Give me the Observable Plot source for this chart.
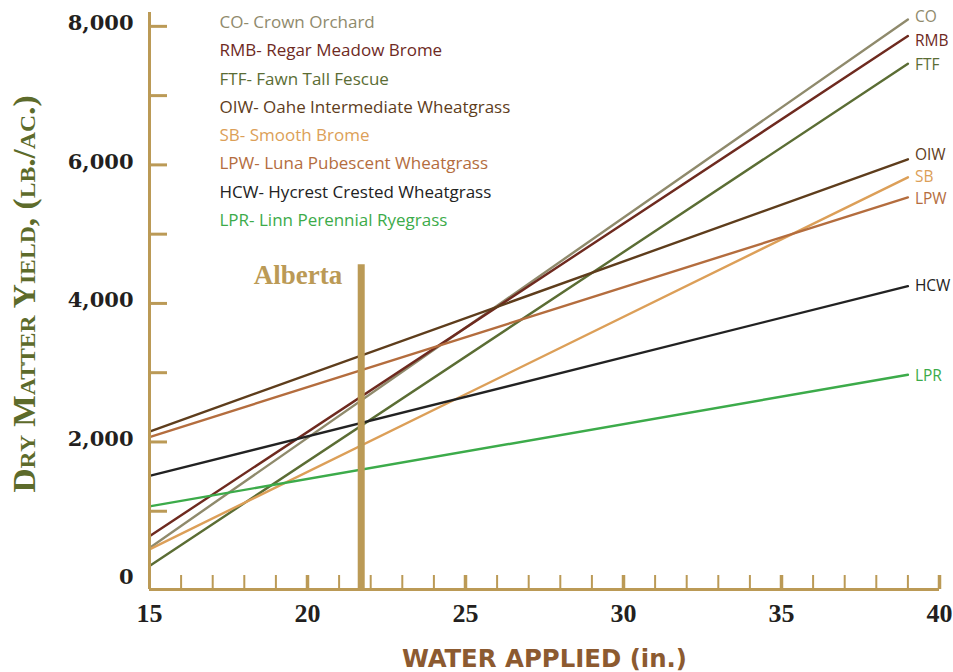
<!DOCTYPE html>
<html><head><meta charset="utf-8">
<script src="https://cdn.jsdelivr.net/npm/d3@7"></script>
<script src="https://cdn.jsdelivr.net/npm/@observablehq/plot@0.6"></script>
<style>body{margin:0;background:#fff} #chart svg{display:block}</style>
</head><body><div id="chart"></div>
<script>
// ---- data ----
const species = ["CO", "RMB", "FTF", "OIW", "SB", "LPW", "HCW", "LPR"];
const speciesNames = ["Crown Orchard", "Regar Meadow Brome", "Fawn Tall Fescue", "Oahe Intermediate Wheatgrass", "Smooth Brome", "Luna Pubescent Wheatgrass", "Hycrest Crested Wheatgrass", "Linn Perennial Ryegrass"];
const waterApplied = [15, 39];
const yieldLow = [470, 640, 210, 2150, 450, 2070, 1510, 1070];   // at 15 in.
const yieldHigh = [8100, 7860, 7460, 6080, 5820, 5530, 4250, 2970]; // at 39 in.
const speciesColors = ["#8f8a6c", "#6e2a1f", "#5b6d34", "#5e3d1c", "#dc9f58", "#b46d3e", "#222222", "#3cab4a"];
const yTickLabels = [0, 2000, 4000, 6000, 8000];
const yTickMarks = [1000, 2000, 3000, 4000, 5000, 6000, 7000, 8000];
const xTickLabels = [15, 20, 25, 30, 35, 40];
const xMinorTicks = [16, 17, 18, 19, 21, 22, 23, 24, 26, 27, 28, 29, 31, 32, 33, 34, 36, 37, 38, 39];
const xMajorTicks = [20, 25, 30, 35, 40];
const albertaLabel = "Alberta";
const albertaWater = 21.7;
const albertaTop = 4560;
const yTitle = "Dry Matter Yield, (lb./ac.)";
const xTitle = "WATER APPLIED (in.)";

// ---- build tables ----
const rows = species.flatMap((s, i) => [
  {species: s, water: waterApplied[0], yield: yieldLow[i]},
  {species: s, water: waterApplied[1], yield: yieldHigh[i]}
]);
const ends = species.map((s, i) => ({species: s, water: waterApplied[1], yield: yieldHigh[i]}));

const W = 953, H = 672, mL = 149, mR = 14, mT = 12, mB = 83;
const plotW = W - mL - mR, plotH = H - mT - mB;
const gold = "#bb9a56";
const yMin = -130, yMax = 8200;
const sans = "'Open Sans', 'Noto Sans', sans-serif";
const serif = "'Liberation Serif', 'DejaVu Serif', serif";
// small pixel nudges so end labels do not collide (style, not data)
const labelNudge = [-2, 5, 1, -4, 0, 2, 0, 1];

const legendMarks = species.map((s, i) =>
  Plot.text([`${s}- ${speciesNames[i]}`], {
    frameAnchor: "top-left", text: d => d, dx: 70, dy: 10 + i * 28.3,
    textAnchor: "start", lineAnchor: "middle",
    fill: speciesColors[i], fontFamily: sans, fontSize: 17
  })
);
const endLabelMarks = ends.map((e, i) =>
  Plot.text([e], {x: "water", y: "yield", text: "species", fill: speciesColors[i], dx: 7, dy: labelNudge[i], textAnchor: "start", fontFamily: sans, fontSize: 15.5})
);

const chart = Plot.plot({
  width: W, height: H,
  marginLeft: mL, marginRight: mR, marginTop: mT, marginBottom: mB,
  x: {domain: [15, 40]},
  y: {domain: [yMin, yMax]},
  color: {domain: species, range: speciesColors},
  style: {background: "#fff", overflow: "visible"},
  marks: [
    Plot.line(rows, {x: "water", y: "yield", z: "species", stroke: "species", strokeWidth: 2.4}),
    ...endLabelMarks,
    // axis lines
    Plot.ruleX([15], {stroke: gold, strokeWidth: 3}),
    Plot.ruleY([yMin], {stroke: gold, strokeWidth: 3}),
    // y tick marks
    Plot.tickY(yTickMarks, {y: d => d, stroke: gold, strokeWidth: 3, insetRight: plotW - 18}),
    // x tick marks
    Plot.tickX(xMinorTicks, {x: d => d, stroke: gold, strokeWidth: 2, insetTop: plotH - 14}),
    Plot.tickX(xMajorTicks, {x: d => d, stroke: gold, strokeWidth: 3.5, insetTop: plotH - 14}),
    // Alberta bar
    Plot.ruleX([albertaWater], {y1: yMin, y2: albertaTop, stroke: gold, strokeWidth: 7}),
    Plot.text([albertaLabel], {x: albertaWater, y: albertaTop, text: d => d, textAnchor: "end", lineAnchor: "top", dx: -19, fill: gold, fontFamily: serif, fontWeight: "bold", fontSize: 27}),
    // axes labels
    Plot.axisY({ticks: yTickLabels, tickSize: 0, tickPadding: 16, dy: -3, tickFormat: d3.format(","), label: null, fill: "#231f20", fontFamily: "'DejaVu Serif', serif", fontWeight: "bold", fontSize: 21}),
    Plot.axisX({ticks: xTickLabels, tickSize: 0, tickPadding: 14, label: null, fill: "#231f20", fontFamily: serif, fontWeight: "bold", fontSize: 26}),
    // titles
    Plot.text([yTitle], {frameAnchor: "left", text: d => d, rotate: -90, dx: -124, dy: -7, fill: "#5d6b2b", fontFamily: serif, fontWeight: "bold", fontSize: 31, fontVariant: "small-caps", textAnchor: "middle", lineAnchor: "middle"}),
    Plot.text([xTitle], {frameAnchor: "bottom", text: d => d, dy: 69, fill: "#8c5a30", fontFamily: "'Liberation Sans Narrow', 'DejaVu Sans Condensed', sans-serif", fontWeight: "bold", fontSize: 25, lineAnchor: "middle"}),
    ...legendMarks
  ]
});
// stretch the axis titles to the reference lengths
d3.select(chart).selectAll("text").each(function() {
  const t = this.textContent;
  if (t === yTitle) d3.select(this).attr("textLength", 397).attr("lengthAdjust", "spacingAndGlyphs");
  if (t === xTitle) d3.select(this).attr("textLength", 285).attr("lengthAdjust", "spacingAndGlyphs");
});
document.getElementById("chart").appendChild(chart);
</script>
</body></html>
